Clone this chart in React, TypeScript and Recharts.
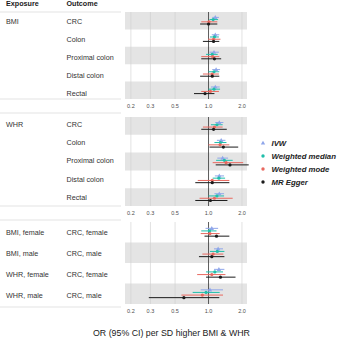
import React from 'react';
import { ScatterChart, Scatter, XAxis, YAxis, ErrorBar, ReferenceArea, ReferenceLine } from 'recharts';

const FONT = '"Liberation Sans", Arial, Helvetica, sans-serif';

const methods = ['IVW', 'Weighted median', 'Weighted mode', 'MR Egger'];
const methodColors = ['#8FA6EA', '#1FBEAA', '#E8685F', '#1A1A1A'];
const methodOffsets = [-0.19, -0.065, 0.065, 0.19];
const xTicks = [0.2, 0.3, 0.5, 1, 2];

// Panel 1: BMI
const bmiExposures = ['BMI', '', '', '', ''];
const bmiOutcomes = ['CRC', 'Colon', 'Proximal colon', 'Distal colon', 'Rectal'];
const bmiIVW = [[1.15, 1.08, 1.24], [1.15, 1.07, 1.25], [1.12, 1.02, 1.24], [1.17, 1.08, 1.27], [1.15, 1.05, 1.26]];
const bmiMedian = [[1.10, 1.02, 1.22], [1.13, 1.03, 1.24], [1.08, 0.95, 1.21], [1.12, 1.0, 1.25], [1.12, 1.0, 1.27]];
const bmiMode = [[1.01, 0.86, 1.20], [1.11, 0.99, 1.28], [1.09, 0.86, 1.25], [1.08, 0.89, 1.24], [1.04, 0.86, 1.24]];
const bmiEgger = [[1.0, 0.84, 1.2], [1.11, 0.89, 1.25], [1.13, 0.86, 1.30], [1.08, 0.84, 1.25], [0.93, 0.74, 1.13]];

// Panel 2: WHR
const whrExposures = ['WHR', '', '', '', ''];
const whrOutcomes = ['CRC', 'Colon', 'Proximal colon', 'Distal colon', 'Rectal'];
const whrIVW = [[1.25, 1.15, 1.36], [1.30, 1.19, 1.42], [1.34, 1.2, 1.5], [1.25, 1.14, 1.38], [1.25, 1.13, 1.38]];
const whrMedian = [[1.19, 1.05, 1.34], [1.28, 1.13, 1.45], [1.39, 1.17, 1.65], [1.24, 1.09, 1.41], [1.19, 1.0, 1.38]];
const whrMode = [[1.13, 0.89, 1.34], [1.27, 1.0, 1.54], [1.44, 1.09, 2.05], [1.08, 0.8, 1.54], [1.13, 0.83, 1.65]];
const whrEgger = [[1.11, 0.86, 1.46], [1.36, 1.02, 1.85], [1.56, 1.16, 2.3], [1.08, 0.76, 1.54], [1.04, 0.76, 1.48]];

// Panel 3: sex-specific
const sexExposures = ['BMI, female', 'BMI, male', 'WHR, female', 'WHR, male'];
const sexOutcomes = ['CRC, female', 'CRC, male', 'CRC, female', 'CRC, male'];
const sexIVW = [[1.07, 0.94, 1.22], [1.22, 1.12, 1.35], [1.24, 1.12, 1.39], [1.03, 0.85, 1.35]];
const sexMedian = [[1.02, 0.86, 1.18], [1.2, 1.03, 1.39], [1.14, 0.95, 1.35], [0.95, 0.72, 1.26]];
const sexMode = [[1.03, 0.85, 1.26], [1.1, 0.88, 1.36], [1.07, 0.79, 1.42], [0.88, 0.57, 1.35]];
const sexEgger = [[1.18, 0.92, 1.54], [1.07, 0.82, 1.39], [1.28, 0.95, 1.75], [0.6, 0.29, 1.25]];

const Tri = (props: any) => {
  const { cx, cy, fill } = props;
  const s = 2.3;
  return <path d={`M${cx},${cy - s}L${cx + s * 0.95},${cy + s * 0.7}L${cx - s * 0.95},${cy + s * 0.7}Z`} fill={fill} />;
};
const Dot = (props: any) => {
  const { cx, cy, fill } = props;
  return <circle cx={cx} cy={cy} r={1.6} fill={fill} />;
};

function Panel({ top, bottom, series, rowCount }: { top: number; bottom: number; series: number[][][]; rowCount: number }) {
  const h = bottom - top;
  const axisH = 14;
  const rowsIdx = Array.from({ length: rowCount }, (_, i) => i);
  return (
    <div style={{ position: 'absolute', left: 0, top }}>
      <ScatterChart width={338} height={h + axisH} margin={{ top: 0, right: 91, bottom: 0, left: 125 }}>
        <XAxis
          type="number"
          dataKey="x"
          scale="log"
          domain={[0.177, 2.22]}
          ticks={xTicks}
          interval={0}
          allowDataOverflow
          axisLine={false}
          tickLine={false}
          tickSize={4}
          tickMargin={1}
          height={axisH}
          tick={{ fontSize: 5.5, fill: '#4D4D4D', fontFamily: FONT }}
          tickFormatter={(v: number) => v.toFixed(1)}
        />
        <YAxis type="number" dataKey="y" domain={[-0.5, rowCount - 0.5]} reversed hide allowDataOverflow />
        {rowsIdx.filter((i) => i % 2 === (rowCount === 4 ? 1 : 0)).map((i) => (
          <ReferenceArea key={'b' + i} y1={i - 0.5} y2={i + 0.5} fill="#E4E4E4" fillOpacity={1} stroke="none" />
        ))}
        {xTicks.filter((t) => t !== 1).map((t) => (
          <ReferenceLine key={'g' + t} x={t} stroke="#CFCFCF" strokeWidth={0.6} />
        ))}
        <ReferenceLine x={1} stroke="#333333" strokeWidth={0.8} />
        {series.map((vals, m) => {
          const data = vals.map((v, i) => ({ x: v[0], y: i + methodOffsets[m], err: [v[0] - v[1], v[2] - v[0]] }));
          return (
            <Scatter
              key={methods[m]}
              name={methods[m]}
              data={data}
              fill={methodColors[m]}
              shape={m === 0 ? Tri : Dot}
              isAnimationActive={false}
            >
              <ErrorBar dataKey="err" direction="x" width={0} stroke={methodColors[m]} strokeWidth={1} />
            </Scatter>
          );
        })}
      </ScatterChart>
    </div>
  );
}

const textStyle = { fontFamily: FONT, fontSize: 7.2, fill: '#333333' } as const;

export default function App() {
  const panel1Y = [21, 39, 57.5, 75.5, 93];
  const panel2Y = [124, 142, 160.5, 179, 197];
  const panel3Y = [232, 253, 274, 295.5];
  const sepLines = [12, 99, 113, 206, 220, 307];
  const legendY = [143, 156, 169, 182];
  return (
    <div style={{ position: 'absolute', left: 0, top: 0, width: 338, height: 341, background: '#FFFFFF', overflow: 'hidden' }}>
      <Panel top={12} bottom={99} rowCount={5} series={[bmiIVW, bmiMedian, bmiMode, bmiEgger]} />
      <Panel top={117} bottom={206} rowCount={5} series={[whrIVW, whrMedian, whrMode, whrEgger]} />
      <Panel top={222} bottom={304} rowCount={4} series={[sexIVW, sexMedian, sexMode, sexEgger]} />
      <svg width={338} height={341} style={{ position: 'absolute', left: 0, top: 0, pointerEvents: 'none' }}>
        {sepLines.map((y) => (
          <line key={'s' + y} x1={0} x2={121} y1={y} y2={y} stroke="#DCDCDC" strokeWidth={0.8} />
        ))}
        <text x={6} y={3} dominantBaseline="central" style={{ ...textStyle, fontWeight: 'bold', fill: '#1A1A1A' }}>Exposure</text>
        <text x={66.5} y={3} dominantBaseline="central" style={{ ...textStyle, fontWeight: 'bold', fill: '#1A1A1A' }}>Outcome</text>
        {bmiOutcomes.map((o, i) => (
          <g key={'p1' + i}>
            {bmiExposures[i] && <text x={6} y={panel1Y[i]} dominantBaseline="central" style={textStyle}>{bmiExposures[i]}</text>}
            <text x={66.5} y={panel1Y[i]} dominantBaseline="central" style={textStyle}>{o}</text>
          </g>
        ))}
        {whrOutcomes.map((o, i) => (
          <g key={'p2' + i}>
            {whrExposures[i] && <text x={6} y={panel2Y[i]} dominantBaseline="central" style={textStyle}>{whrExposures[i]}</text>}
            <text x={66.5} y={panel2Y[i]} dominantBaseline="central" style={textStyle}>{o}</text>
          </g>
        ))}
        {sexOutcomes.map((o, i) => (
          <g key={'p3' + i}>
            <text x={6} y={panel3Y[i]} dominantBaseline="central" style={textStyle}>{sexExposures[i]}</text>
            <text x={66.5} y={panel3Y[i]} dominantBaseline="central" style={textStyle}>{o}</text>
          </g>
        ))}
        {methods.map((m, i) => (
          <g key={'l' + i}>
            {i === 0 ? (
              <Tri cx={263} cy={legendY[i]} fill={methodColors[i]} />
            ) : (
              <circle cx={263} cy={legendY[i]} r={1.7} fill={methodColors[i]} />
            )}
            <text x={271.5} y={legendY[i]} dominantBaseline="central" style={{ fontFamily: FONT, fontSize: 7.8, fontStyle: 'italic', fontWeight: 'bold', fill: '#222222' }}>{m}</text>
          </g>
        ))}
        <text x={171.5} y={333} textAnchor="middle" dominantBaseline="central" style={{ fontFamily: FONT, fontSize: 8.8, fill: '#1A1A1A' }}>OR (95% CI) per SD higher BMI &amp; WHR</text>
      </svg>
    </div>
  );
}
